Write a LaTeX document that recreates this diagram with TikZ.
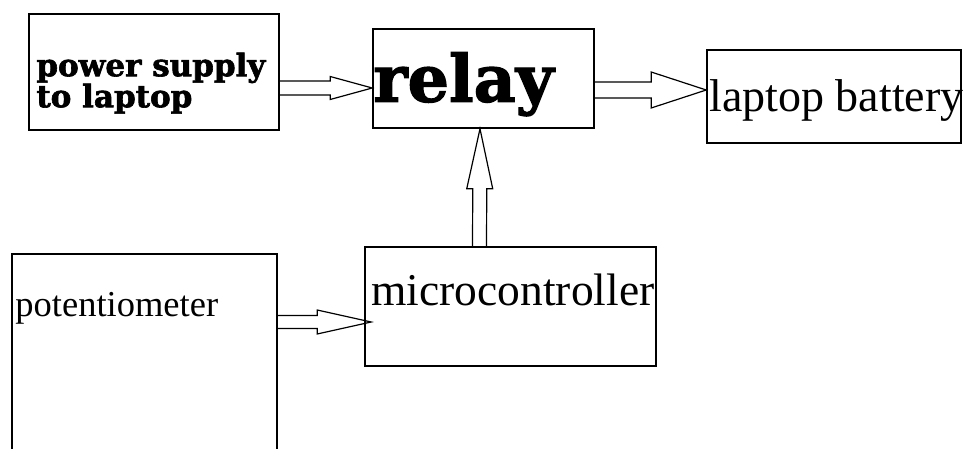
\documentclass[tikz,border=0pt]{standalone}
\usepackage{fontspec}
\setmainfont{Liberation Serif}
\newfontfamily\heavyfont{DejaVu Serif}[BoldFeatures={FakeBold=2}]
\usetikzlibrary{positioning, calc}

% hollow block arrow: start, tip, shaft half width, head half width, head length
\newcommand{\hollowarrow}[5]{%
  \coordinate (hbase) at ($(#2)!#5!(#1)$);
  \draw [arrowline] ($(#1)!#3!90:(#2)$) -- ($(hbase)!#3!90:(#2)$) -- ($(hbase)!#4!90:(#2)$) -- (#2)
    -- ($(hbase)!#4!-90:(#2)$) -- ($(hbase)!#3!-90:(#2)$) -- ($(#1)!#3!-90:(#2)$);
}

\begin{document}
\begin{tikzpicture}[x=1pt, y=1pt]

% Define styles
\tikzstyle{box} = [rectangle, draw, line width=1.6pt, inner sep=0pt]
\tikzstyle{txt} = [anchor=base west, inner sep=0pt, align=left]
\tikzstyle{arrowline} = [line width=1.2pt, line join=miter]

\clip (0,0) rectangle (966,448);

% Blocks
\node [box, minimum width=250pt, minimum height=116pt] (power) at (154,376) {};
\node [box, minimum width=221pt, minimum height=99pt] (relay) at (483.5,369.5) {};
\node [box, minimum width=254pt, minimum height=93pt] (battery) at (834,351.5) {};
\node [box, minimum width=291pt, minimum height=119pt] (micro) at (510.5,141.5) {};
\node [box, minimum width=265pt, minimum height=204pt] (pot) at (144.5,92) {};

% Texts
\node [txt, font=\heavyfont\bfseries\fontsize{31}{31}\selectfont] (powertxt) at ([shift={(8,-94)}]power.north west) {power supply\\to laptop};
\node [txt, font=\heavyfont\bfseries\fontsize{65}{65}\selectfont] (relaytxt) at ([shift={(1,-73.5)}]relay.north west) {relay};
\node [txt, font=\fontsize{46}{46}\selectfont] (batterytxt) at ([shift={(3,-62)}]battery.north west) {laptop battery};
\node [txt, font=\fontsize{45.5}{45.5}\selectfont] (microtxt) at ([shift={(7,-59)}]micro.north west) {microcontroller};
\node [txt, font=\fontsize{36.5}{36.5}\selectfont] (pottxt) at ([shift={(4,-63)}]pot.north west) {potentiometer};

% Arrows
\hollowarrow{[yshift=-16pt]power.east}{[yshift=-9.5pt]relay.west}{7pt}{11.5pt}{42pt}
\hollowarrow{[yshift=-11.5pt]relay.east}{[yshift=6.5pt]battery.west}{8pt}{18pt}{55pt}
\hollowarrow{[xshift=-31pt]micro.north}{[xshift=-3.5pt]relay.south}{7pt}{13pt}{60pt}
\hollowarrow{[yshift=34pt]pot.east}{[xshift=7pt,yshift=-15.5pt]micro.west}{6.5pt}{12pt}{54pt}

\end{tikzpicture}
\end{document}
